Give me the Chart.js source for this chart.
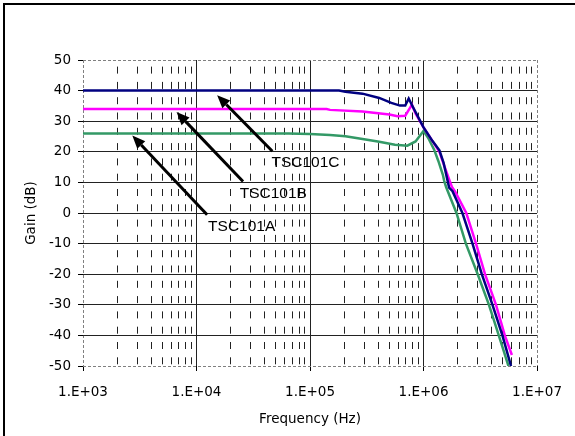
<!DOCTYPE html>
<html>
<head>
<meta charset="utf-8">
<script src="https://cdn.jsdelivr.net/npm/chart.js@4/dist/chart.umd.min.js"></script>
<style>
  html, body { margin: 0; padding: 0; background: #fff; }
  #wrap { position: relative; width: 575px; height: 436px; overflow: hidden; }
  #frame { position: absolute; left: 3px; top: 3px; width: 640px; height: 500px; border: 2px solid #000; }
  #gainChart { position: absolute; left: 0; top: 0; }
</style>
</head>
<body>
<div id="wrap">
  <div id="frame"></div>
  <canvas id="gainChart" width="575" height="436"></canvas>
</div>
<script>
// 频率 (Hz) / 增益 (dB)
const freqC = [1e3, 1.8e5, 2.05e5, 2.9e5, 4.07e5, 5.2e5, 6.2e5, 6.9e5, 7.4e5, 8.0e5, 1.0e6, 1.2e6, 1.38e6, 1.5e6, 1.63e6, 1.68e6, 1.8e6, 2.2e6, 2.7e6, 3.26e6, 4.05e6, 4.95e6, 5.9e6];
const gainC = [40, 40, 39.6, 39.0, 37.6, 36.0, 35.1, 35.1, 37.4, 34.9, 28, 23.5, 20.5, 16.5, 10.5, 8.3, 7.1, 0, -10, -20, -30, -40, -50];

const freqB = [1e3, 1.4e5, 1.5e5, 2.9e5, 5e5, 5.9e5, 6.9e5, 7.9e5, 8.5e5, 1.0e6, 1.2e6, 1.38e6, 1.52e6, 1.7e6, 1.78e6, 1.9e6, 2.38e6, 2.9e6, 3.48e6, 4.35e6, 5.2e6, 6.0e6];
const gainB = [34, 34, 33.7, 33.2, 32.2, 31.6, 31.8, 35.4, 32.5, 28, 23.5, 20, 15.5, 10.5, 8.5, 7, 0, -10, -20, -30, -40, -46.4];

const freqA = [1e3, 6.5e4, 1.0e5, 1.5e5, 2.05e5, 2.9e5, 4.07e5, 5.6e5, 7.2e5, 8.5e5, 1.0e6, 1.1e6, 1.24e6, 1.35e6, 1.48e6, 1.52e6, 1.58e6, 1.95e6, 2.36e6, 3.0e6, 3.77e6, 4.6e6, 5.6e6];
const gainA = [26, 26, 25.8, 25.5, 25.1, 24.2, 23.3, 22.3, 22.0, 23.4, 26.8, 24.5, 20.7, 17, 12.5, 10.5, 8.5, 0, -10, -20, -30, -40, -50];

// 坐标轴
const xMajorTicks = [1e3, 1e4, 1e5, 1e6, 1e7];
const xTickLabels = ['1.E+03', '1.E+04', '1.E+05', '1.E+06', '1.E+07'];
const xMinorSteps = [2, 3, 4, 5, 6, 7, 8, 9];
const yMin = -50, yMax = 50, yStep = 10;

// 箭头标注
const arrowLabels = ['TSC101C', 'TSC101B', 'TSC101A'];
const arrowHeadFreq = [1.52e4, 6.67e3, 2.72e3];
const arrowHeadGain = [38.5, 33.0, 25.3];
const arrowTailFreq = [4.66e4, 2.57e4, 1.24e4];
const arrowTailGain = [20.2, 10.3, -0.6];
const labelFreq = [4.57e4, 2.4e4, 1.265e4];
const labelGain = [16.4, 6.2, -4.4];

const axisFont = { family: 'DejaVu Sans', size: 13.5 };

function toPoints(freqs, gains) {
  return freqs.map((f, i) => ({ x: f, y: gains[i] }));
}

// 主刻度 + 次刻度 (网格)
const xGridValues = [];
xMajorTicks.forEach((d, i) => {
  xGridValues.push(d);
  if (i < xMajorTicks.length - 1) xMinorSteps.forEach(m => xGridValues.push(d * m));
});

function isMajor(v) { return xMajorTicks.indexOf(v) >= 0; }
function isXEdge(v) { return v === xMajorTicks[0] || v === xMajorTicks[xMajorTicks.length - 1]; }

// 画箭头和文字
const arrowPlugin = {
  id: 'arrows',
  afterDatasetsDraw(chart) {
    const { ctx, scales: { x, y } } = chart;
    ctx.save();
    ctx.strokeStyle = '#000';
    ctx.fillStyle = '#000';
    ctx.lineWidth = 3;
    ctx.lineCap = 'butt';
    for (let i = 0; i < arrowLabels.length; i++) {
      const hx = x.getPixelForValue(arrowHeadFreq[i]), hy = y.getPixelForValue(arrowHeadGain[i]);
      const tx = x.getPixelForValue(arrowTailFreq[i]), ty = y.getPixelForValue(arrowTailGain[i]);
      const ang = Math.atan2(hy - ty, hx - tx);
      const headLen = 13, headW = 5.5;
      const bx = hx - headLen * Math.cos(ang), by = hy - headLen * Math.sin(ang);
      ctx.beginPath();
      ctx.moveTo(tx, ty);
      ctx.lineTo(bx, by);
      ctx.stroke();
      ctx.beginPath();
      ctx.moveTo(hx, hy);
      ctx.lineTo(bx + headW * Math.sin(ang), by - headW * Math.cos(ang));
      ctx.lineTo(bx - headW * Math.sin(ang), by + headW * Math.cos(ang));
      ctx.closePath();
      ctx.fill();

      ctx.font = '15.5px "Liberation Sans", Arial, sans-serif';
      ctx.textAlign = 'left';
      ctx.textBaseline = 'middle';
      ctx.fillText(arrowLabels[i], x.getPixelForValue(labelFreq[i]), y.getPixelForValue(labelGain[i]));
    }
    ctx.restore();
  }
};

const ctx = document.getElementById('gainChart').getContext('2d');
new Chart(ctx, {
  type: 'line',
  data: {
    datasets: [
      { label: 'TSC101C', data: toPoints(freqC, gainC), borderColor: '#000080', borderWidth: 2.5, pointRadius: 0, tension: 0 },
      { label: 'TSC101B', data: toPoints(freqB, gainB), borderColor: '#ff00ff', borderWidth: 2.5, pointRadius: 0, tension: 0 },
      { label: 'TSC101A', data: toPoints(freqA, gainA), borderColor: '#339966', borderWidth: 2.5, pointRadius: 0, tension: 0 }
    ]
  },
  options: {
    responsive: false,
    animation: false,
    layout: { padding: { top: 60, right: 37, left: 0, bottom: 0 } },
    plugins: { legend: { display: false }, tooltip: { enabled: false } },
    scales: {
      x: {
        type: 'logarithmic',
        min: xMajorTicks[0],
        max: xMajorTicks[xMajorTicks.length - 1],
        afterBuildTicks: s => { s.ticks = xGridValues.map(v => ({ value: v })); },
        afterFit: s => { s.height = 70; },
        ticks: {
          autoSkip: false, maxRotation: 0, padding: 13, color: '#000', font: axisFont,
          callback: v => { const i = xMajorTicks.indexOf(v); return i >= 0 ? xTickLabels[i] : ''; }
        },
        grid: {
          lineWidth: 1,
          tickLength: 5,
          color: c => isXEdge(c.tick.value) ? '#808080' : '#222',
          tickColor: c => isMajor(c.tick.value) ? '#000' : 'rgba(0,0,0,0)'
        },
        border: {
          display: false,
          dash: c => isXEdge(c.tick.value) ? [3, 2] : (isMajor(c.tick.value) ? [] : [7, 8.3]),
          dashOffset: c => isMajor(c.tick.value) ? 0 : 8.7
        },
        title: { display: true, text: 'Frequency (Hz)', color: '#000', font: axisFont, padding: { top: 0, bottom: 8 } }
      },
      y: {
        min: yMin, max: yMax,
        afterFit: s => { s.width = 83; },
        ticks: { stepSize: yStep, padding: 7, color: '#000', font: axisFont },
        grid: {
          lineWidth: 1,
          tickLength: 5,
          color: c => (c.tick.value === yMin || c.tick.value === yMax) ? '#808080' : '#222',
          tickColor: '#000'
        },
        border: {
          display: false,
          dash: c => (c.tick.value === yMin || c.tick.value === yMax) ? [3, 2] : []
        },
        title: { display: true, text: 'Gain (dB)', color: '#000', font: axisFont, padding: { top: 23, bottom: 0 } }
      }
    }
  },
  plugins: [arrowPlugin]
});
</script>
</body>
</html>
